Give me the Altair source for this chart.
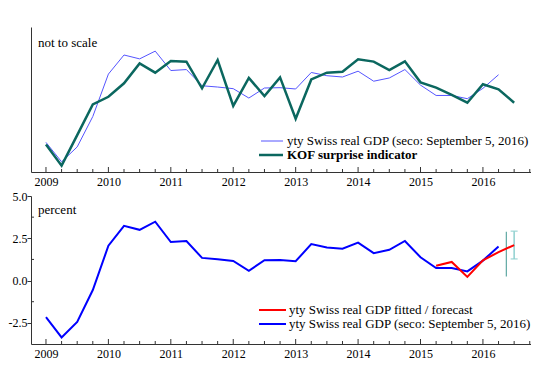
import altair as alt
import pandas as pd

# ---------------- data ----------------
quarters_gdp = [2009.0, 2009.25, 2009.5, 2009.75, 2010.0, 2010.25, 2010.5, 2010.75,
                2011.0, 2011.25, 2011.5, 2011.75, 2012.0, 2012.25, 2012.5, 2012.75,
                2013.0, 2013.25, 2013.5, 2013.75, 2014.0, 2014.25, 2014.5, 2014.75,
                2015.0, 2015.25, 2015.5, 2015.75, 2016.0, 2016.25]
gdp = [-2.16, -3.36, -2.44, -0.56, 2.06, 3.24, 3.00, 3.48,
       2.28, 2.34, 1.34, 1.26, 1.16, 0.58, 1.20, 1.22,
       1.14, 2.16, 1.96, 1.88, 2.24, 1.62, 1.82, 2.34,
       1.38, 0.74, 0.74, 0.54, 1.18, 2.02]

quarters_kof = quarters_gdp + [2016.5]
kof = [-2.29, -3.60, -1.71, 0.19, 0.66, 1.49, 2.72, 2.15,
       2.87, 2.83, 1.18, 2.93, 0.09, 1.82, 0.70, 1.86,
       -0.70, 1.73, 2.15, 2.21, 2.97, 2.83, 2.31, 2.85,
       1.55, 1.22, 0.77, 0.29, 1.43, 1.12, 0.29]

quarters_fit = [2015.25, 2015.5, 2015.75, 2016.0, 2016.25, 2016.5]
fitted = [0.88, 1.10, 0.22, 1.20, 1.68, 2.10]

band_t = [2016.375]
band_lo = [0.24]
band_hi = [2.88]
err_t = [2016.5]
err_lo = [1.28]
err_hi = [2.92]

year_ticks = [2009, 2010, 2011, 2012, 2013, 2014, 2015, 2016]
minor_ticks = [y + q for y in [2008] + year_ticks for q in (0.25, 0.5, 0.75)]
y_ticks = [-2.5, 0.0, 2.5, 5.0]
y_minor = [-1.25, 1.25, 3.75]

# ---------------- style ----------------
FONT = "Times New Roman, Liberation Serif, serif"
W = 500
H_TOP = 145
H_BOT = 148
X_DOMAIN = [2008.76, 2016.77]
AX = "#333333"

xscale = alt.Scale(domain=X_DOMAIN, nice=False, zero=False)

df_gdp = pd.DataFrame({"t": quarters_gdp, "v": gdp})
df_kof = pd.DataFrame({"t": quarters_kof, "v": kof})
df_fit = pd.DataFrame({"t": quarters_fit, "v": fitted})
df_band = pd.DataFrame({"t": band_t, "lo": band_lo, "hi": band_hi})
df_err = pd.DataFrame({"t": err_t, "lo": err_lo, "hi": err_hi})
df_major = pd.DataFrame({"t": year_ticks})
df_minor = pd.DataFrame({"t": [m for m in minor_ticks if X_DOMAIN[0] < m < X_DOMAIN[1]]})
df_yminor = pd.DataFrame({"v": y_minor})
df_one = pd.DataFrame({"k": [0]})

xaxis = alt.Axis(values=year_ticks, format="d", title=None, grid=False, ticks=False,
                 labelFont=FONT, labelFontSize=12, labelFontWeight=400, labelColor="black",
                 labelPadding=4, domainColor=AX, labelFlush=False)


def tick_layers(h):
    major = alt.Chart(df_major).mark_rule(color=AX, strokeWidth=1).encode(
        x=alt.X("t:Q", scale=xscale, axis=xaxis),
        y=alt.value(h), y2=alt.value(h - 5))
    minor = alt.Chart(df_minor).mark_rule(color=AX, strokeWidth=1).encode(
        x=alt.X("t:Q", scale=xscale),
        y=alt.value(h), y2=alt.value(h - 3))
    return [major, minor]


def label(text, x, y, bold=False):
    return alt.Chart(df_one).mark_text(
        text=text, font=FONT, fontSize=13, fontWeight=700 if bold else 400,
        align="left", baseline="middle", color="black").encode(
        x=alt.value(x), y=alt.value(y))


def swatch(color, width, x1, x2, y):
    return alt.Chart(df_one).mark_rule(color=color, strokeWidth=width).encode(
        x=alt.value(x1), x2=alt.value(x2), y=alt.value(y))


# ---------------- top panel ----------------
yscale_top = alt.Scale(domain=[-3.99, 4.97], nice=False, zero=False)
yaxis_top = alt.Axis(title=None, labels=False, ticks=False, grid=False, domainColor=AX)

top_gdp = alt.Chart(df_gdp).mark_line(color="#5555ff", strokeWidth=1).encode(
    x=alt.X("t:Q", scale=xscale, axis=xaxis),
    y=alt.Y("v:Q", scale=yscale_top, axis=yaxis_top))
top_kof = alt.Chart(df_kof).mark_line(color="#0b675f", strokeWidth=2.5).encode(
    x=alt.X("t:Q", scale=xscale),
    y=alt.Y("v:Q", scale=yscale_top))

top = alt.layer(
    top_gdp, top_kof, *tick_layers(H_TOP),
    label("not to scale", 7, 16),
    swatch("#5555ff", 1, 230, 252, 114),
    label("yty Swiss real GDP (seco: September 5, 2016)", 256, 114),
    swatch("#0b675f", 2.5, 228, 252, 128),
    label("KOF surprise indicator", 256, 128, bold=True),
).properties(width=W, height=H_TOP)

# ---------------- bottom panel ----------------
yscale_bot = alt.Scale(domain=[-3.75, 5.0], nice=False, zero=False)
yaxis_bot = alt.Axis(title=None, values=y_ticks, grid=False, tickSize=4,
                     labelExpr="datum.value < 0 ? '-' + format(-datum.value, '.1f') : format(datum.value, '.1f')",
                     tickColor=AX, domainColor=AX, labelFont=FONT, labelFontSize=12,
                     labelFontWeight=400, labelColor="black", labelPadding=0, labelFlush=False)

bot_gdp = alt.Chart(df_gdp).mark_line(color="#0000ff", strokeWidth=2).encode(
    x=alt.X("t:Q", scale=xscale, axis=xaxis),
    y=alt.Y("v:Q", scale=yscale_bot, axis=yaxis_bot))
bot_fit = alt.Chart(df_fit).mark_line(color="#ff0000", strokeWidth=2).encode(
    x=alt.X("t:Q", scale=xscale),
    y=alt.Y("v:Q", scale=yscale_bot))
band = alt.Chart(df_band).mark_rule(color="#5fa8a3", strokeWidth=1.2).encode(
    x=alt.X("t:Q", scale=xscale),
    y=alt.Y("lo:Q", scale=yscale_bot), y2="hi:Q")
err = alt.Chart(df_err).mark_rule(color="#8fd0cf", strokeWidth=1.5).encode(
    x=alt.X("t:Q", scale=xscale),
    y=alt.Y("lo:Q", scale=yscale_bot), y2="hi:Q")
cap_lo = alt.Chart(df_err).mark_tick(color="#8fd0cf", orient="horizontal", size=7,
                                     thickness=1.5).encode(
    x=alt.X("t:Q", scale=xscale), y=alt.Y("lo:Q", scale=yscale_bot))
cap_hi = alt.Chart(df_err).mark_tick(color="#8fd0cf", orient="horizontal", size=7,
                                     thickness=1.5).encode(
    x=alt.X("t:Q", scale=xscale), y=alt.Y("hi:Q", scale=yscale_bot))
ymin = alt.Chart(df_yminor).mark_rule(color=AX, strokeWidth=1).encode(
    y=alt.Y("v:Q", scale=yscale_bot), x=alt.value(0), x2=alt.value(3))

bottom = alt.layer(
    bot_gdp, band, err, cap_lo, cap_hi, bot_fit, *tick_layers(H_BOT), ymin,
    label("percent", 7, 14),
    swatch("#ff0000", 2, 228, 255, 114),
    label("yty Swiss real GDP fitted / forecast", 258, 114),
    swatch("#0000ff", 2, 228, 255, 128),
    label("yty Swiss real GDP (seco: September 5, 2016)", 258, 128),
).properties(width=W, height=H_BOT)

chart = alt.vconcat(top, bottom, spacing=3).properties(
    padding={"top": 19, "left": 0, "right": 0, "bottom": 0}
).configure_view(stroke=None).configure_axis(domainWidth=1)

chart.save("out.html", embed_options={"renderer": "svg", "actions": False})
